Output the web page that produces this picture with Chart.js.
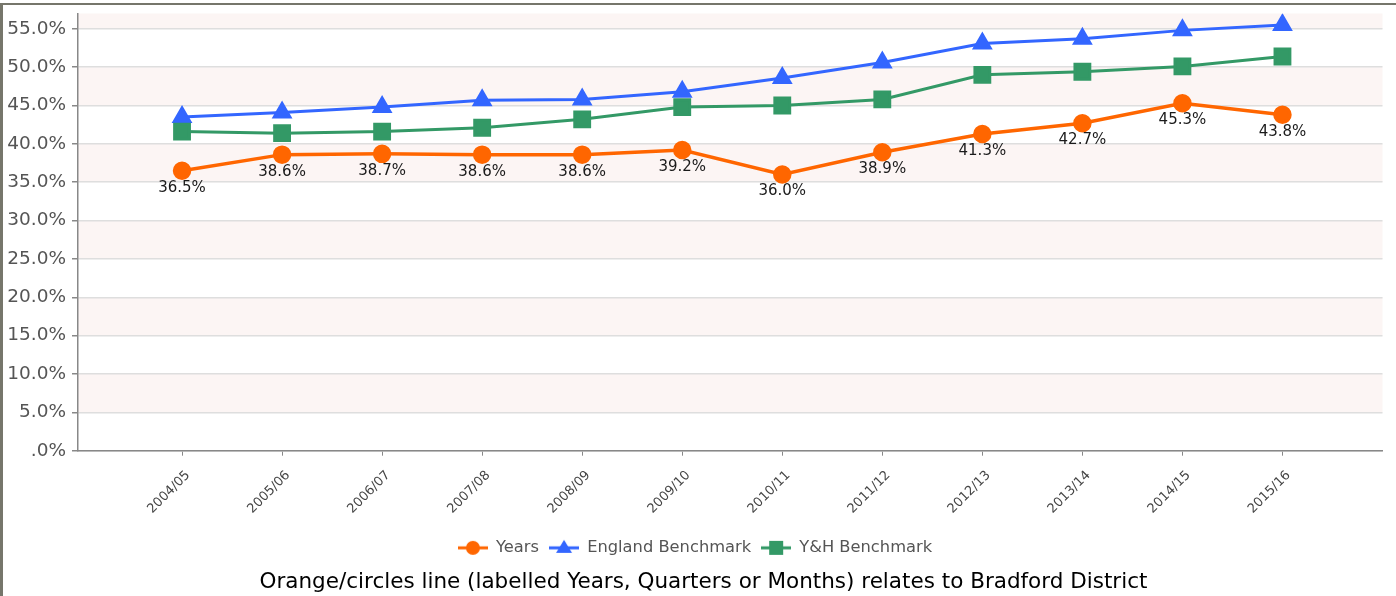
<!DOCTYPE html>
<html>
<head>
<meta charset="utf-8">
<title>Bradford District benchmark chart</title>
<script src="https://cdn.jsdelivr.net/npm/chart.js@4.4.1/dist/chart.umd.min.js"></script>
<style>
  html, body { margin: 0; padding: 0; background: #fff; }
  #frame { position: relative; width: 1396px; height: 596px; overflow: hidden; }
  #frame .top { position: absolute; left: 0; top: 3px; width: 1396px; height: 2px; background: #76766b; }
  #frame .left { position: absolute; left: 0; top: 3px; width: 3px; height: 593px; background: #76766b; }
  #chart { position: absolute; left: 0; top: 0; }
  #caption {
    position: absolute; left: 0; top: 568px; width: 1407px; text-align: center;
    font-family: "DejaVu Sans", Verdana, sans-serif; font-size: 21.5px; color: #000;
  }
</style>
</head>
<body>
<div id="frame">
  <canvas id="chart" width="1396" height="596"></canvas>
  <div class="top"></div>
  <div class="left"></div>
  <div id="caption">Orange/circles line (labelled Years, Quarters or Months) relates to Bradford District</div>
</div>
<script>
// periods along the x axis
const periods = ["2004/05", "2005/06", "2006/07", "2007/08", "2008/09", "2009/10",
  "2010/11", "2011/12", "2012/13", "2013/14", "2014/15", "2015/16"];

// Bradford District (%)
const bradford = [36.5, 38.6, 38.7, 38.6, 38.6, 39.2, 36.0, 38.9, 41.3, 42.7, 45.3, 43.8];
// England benchmark (%)
const england = [43.5, 44.1, 44.8, 45.7, 45.8, 46.8, 48.6, 50.6, 53.1, 53.7, 54.8, 55.5];
// Yorkshire & Humber benchmark (%)
const yhBench = [41.6, 41.4, 41.6, 42.1, 43.2, 44.8, 45.0, 45.8, 49.0, 49.4, 50.1, 51.4];

// y axis tick values (%)
const yTicks = [0, 5, 10, 15, 20, 25, 30, 35, 40, 45, 50, 55];

const ORANGE = "#ff6600";
const BLUE = "#3366ff";
const GREEN = "#339966";
const FONT = "'DejaVu Sans', Verdana, sans-serif";

function toPoints(values) {
  return values.map((v, i) => ({ x: i, y: v }));
}

function pctLabel(v) {
  return v === 0 ? ".0%" : v.toFixed(1) + "%";
}

// small line + marker image used as a legend symbol
function legendSymbol(color, shape) {
  const c = document.createElement("canvas");
  c.width = 30;
  c.height = 18;
  const g = c.getContext("2d");
  g.strokeStyle = color;
  g.fillStyle = color;
  g.lineWidth = 3;
  g.beginPath();
  g.moveTo(0, 9);
  g.lineTo(30, 9);
  g.stroke();
  g.beginPath();
  if (shape === "circle") {
    g.arc(15, 9, 7, 0, Math.PI * 2);
  } else if (shape === "triangle") {
    g.moveTo(15, 1);
    g.lineTo(23, 14);
    g.lineTo(7, 14);
    g.closePath();
  } else {
    g.rect(8, 2, 14, 14);
  }
  g.fill();
  return c;
}

const symbols = [
  legendSymbol(ORANGE, "circle"),
  legendSymbol(BLUE, "triangle"),
  legendSymbol(GREEN, "rect")
];

// alternating pale bands behind the grid
const bandsPlugin = {
  id: "bands",
  beforeDraw(chart) {
    const { ctx, chartArea, scales } = chart;
    const y = scales.y;
    ctx.save();
    ctx.fillStyle = "#fcf5f4";
    for (let v = 5; v < y.max; v += 10) {
      const top = y.getPixelForValue(Math.min(v + 5, y.max));
      const bottom = y.getPixelForValue(v);
      ctx.fillRect(chartArea.left, top, chartArea.right - chartArea.left, bottom - top);
    }
    ctx.restore();
  }
};

// value labels under the Bradford points
const valueLabels = {
  id: "valueLabels",
  afterDatasetsDraw(chart) {
    const { ctx } = chart;
    const meta = chart.getDatasetMeta(0);
    ctx.save();
    ctx.font = "15px " + FONT;
    ctx.fillStyle = "#1a1a1a";
    ctx.textAlign = "center";
    ctx.textBaseline = "middle";
    meta.data.forEach((pt, i) => {
      ctx.fillText(pctLabel(bradford[i]), pt.x, pt.y + 17);
    });
    ctx.restore();
  }
};

new Chart(document.getElementById("chart"), {
  type: "line",
  data: {
    datasets: [
      {
        label: "Years",
        data: toPoints(bradford),
        borderColor: ORANGE,
        backgroundColor: ORANGE,
        borderWidth: 3.5,
        pointStyle: "circle",
        pointRadius: 7.5,
        pointHoverRadius: 7.5,
        order: 0
      },
      {
        label: "England Benchmark",
        data: toPoints(england),
        borderColor: BLUE,
        backgroundColor: BLUE,
        borderWidth: 3,
        pointStyle: "triangle",
        pointRadius: 9,
        pointHoverRadius: 9,
        order: 2
      },
      {
        label: "Y&H Benchmark",
        data: toPoints(yhBench),
        borderColor: GREEN,
        backgroundColor: GREEN,
        borderWidth: 3,
        pointStyle: "rect",
        pointRadius: 10.5,
        pointHoverRadius: 10.5,
        order: 1
      }
    ]
  },
  options: {
    responsive: false,
    animation: false,
    layout: { padding: { top: 12, right: 6, left: 0, bottom: 30 } },
    plugins: {
      tooltip: { enabled: false },
      legend: {
        position: "bottom",
        labels: {
          usePointStyle: true,
          pointStyleWidth: 30,
          padding: 10,
          color: "#555",
          font: { family: FONT, size: 16.3 },
          sort: (a, b) => a.datasetIndex - b.datasetIndex,
          generateLabels(chart) {
            const items = Chart.defaults.plugins.legend.labels.generateLabels(chart);
            items.forEach((it) => { it.pointStyle = symbols[it.datasetIndex]; });
            return items;
          }
        }
      }
    },
    scales: {
      x: {
        type: "linear",
        min: -1.04,
        max: 12.0,
        afterBuildTicks(scale) {
          scale.ticks = periods.map((p, i) => ({ value: i }));
        },
        afterFit(scale) {
          scale.height = 79;
          scale.paddingLeft = 0;
          scale.paddingRight = 0;
        },
        border: { color: "#888", width: 1.5 },
        grid: { drawOnChartArea: false, tickLength: 5, tickColor: "#888" },
        ticks: {
          autoSkip: false,
          minRotation: 45,
          maxRotation: 45,
          padding: 12,
          labelOffset: 6,
          color: "#444",
          font: { family: FONT, size: 13 },
          callback: (v) => periods[v] || ""
        }
      },
      y: {
        min: 0,
        max: 57,
        afterBuildTicks(scale) {
          scale.ticks = yTicks.map((v) => ({ value: v }));
        },
        afterFit(scale) {
          scale.width = 78;
          scale.paddingTop = 0;
          scale.paddingBottom = 0;
        },
        border: { color: "#888", width: 1.5 },
        grid: { color: "#dedede", lineWidth: 1.5, tickLength: 6, tickColor: "#888" },
        ticks: {
          padding: 6,
          color: "#555",
          font: { family: FONT, size: 18.5 },
          callback: (v) => pctLabel(v)
        }
      }
    }
  },
  plugins: [bandsPlugin, valueLabels]
});
</script>
</body>
</html>
